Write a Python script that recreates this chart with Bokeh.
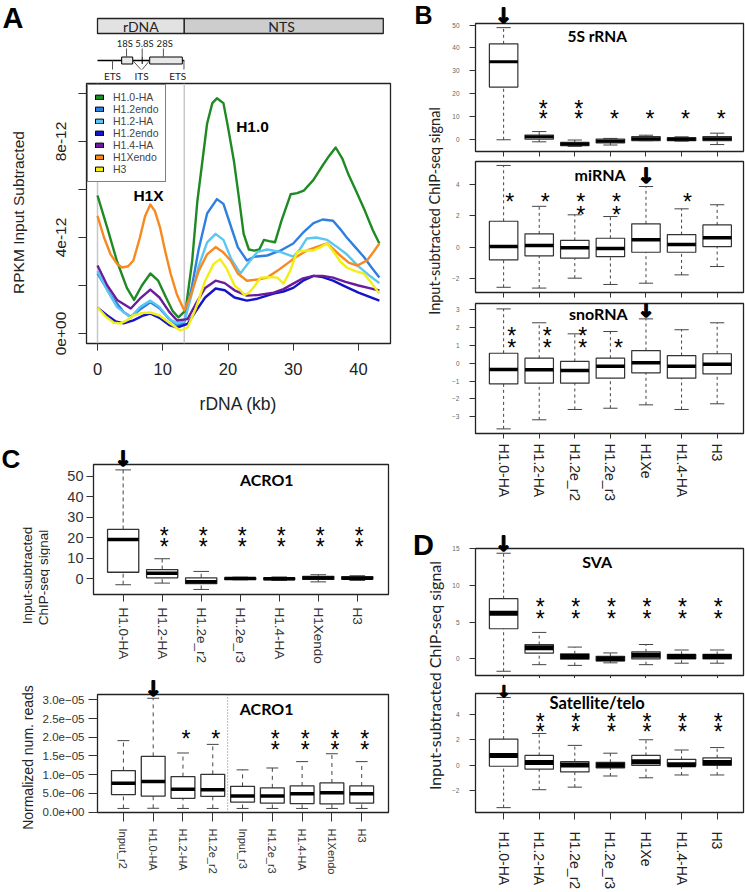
import math
from bokeh.plotting import figure
from bokeh.models import (Range1d, FixedTicker, LinearAxis, Span, Legend, LegendItem, ColumnDataSource)
from bokeh.layouts import row, column
from bokeh.transform import dodge
from bokeh.core.properties import value
from bokeh.embed import file_html
from bokeh.resources import INLINE

# ======================= DATA =======================
# ---- Panel A: rDNA profiles (RPKM input subtracted, in units of 1e-12) ----
series_names = ["H1.0-HA", "H1.2endo", "H1.2-HA", "H1.2endo", "H1.4-HA", "H1Xendo", "H3"]
series_colors = ["#1f8a24", "#2f7fe0", "#5cc6f2", "#1414c8", "#6a1c9c", "#f7891f", "#f2ee16"]

h10_kb = [0, 1.5, 3, 4.5, 5.6, 6.8, 8.1, 9.3, 10.5, 11.5, 12.4, 13.5, 14.5, 15.3, 16.8, 17.6, 18.3, 19.3, 20, 20.9,
          21.7, 22.4, 23.2, 24, 24.8, 25.5, 26.3, 27.2, 28.2, 29.6, 30.6, 31.6, 33.1, 34.5, 35.5, 36.5, 37.5, 38.5,
          39.7, 41, 42.2, 43.2]
h10_val = [5.75, 4.4, 3.0, 1.9, 1.4, 2.0, 2.5, 2.2, 1.5, 0.95, 0.67, 0.96, 3.0, 5.5, 8.75, 9.6, 9.8, 9.6, 8.6, 7.2,
           5.6, 4.15, 3.5, 3.45, 3.5, 3.9, 3.85, 3.8, 4.7, 5.8, 5.85, 5.95, 6.4, 7.0, 7.4, 7.75, 7.3, 6.6,
           5.9, 5.1, 4.3, 3.75]
h12e_kb = [0, 2, 4, 5.1, 6.5, 8.1, 9.5, 11, 12.2, 13.3, 14.5, 15.5, 16.8, 18.3, 19.3, 20.4, 21.5, 22.9, 24, 26,
           28, 30, 31.5, 33.1, 34.5, 36.1, 37.2, 38.2, 39.5, 40.8, 42, 43.2]
h12e_val = [2.5, 1.6, 0.9, 0.7, 1.0, 1.3, 1.05, 0.6, 0.35, 0.45, 2.0, 3.5, 5.0, 5.6, 5.4, 4.5, 3.6, 3.04, 3.2, 3.25,
            3.45, 3.75, 4.2, 4.6, 4.75, 4.7, 4.35, 4.0, 3.6, 3.2, 2.75, 2.33]
h12ha_kb = [0, 1.5, 3, 5.1, 6.5, 8.1, 9.5, 11, 12.2, 13.3, 14.5, 15.5, 16.8, 18.1, 19.3, 20.5, 21.9, 23, 24.5, 26,
            28, 30, 31, 32.1, 33.5, 35.2, 36.5, 38.2, 40, 41.5, 43.2]
h12ha_val = [2.6, 1.8, 1.1, 0.67, 1.1, 1.37, 1.1, 0.6, 0.42, 0.5, 1.7, 2.8, 3.8, 4.15, 3.9, 3.1, 2.5, 2.9, 3.4, 3.5,
             3.4, 3.2, 3.5, 3.96, 4.0, 3.9, 3.65, 3.3, 2.8, 2.45, 2.1]
h12e2_kb = [0, 1.5, 2.8, 4, 5.5, 7, 8.1, 9.5, 11, 12.2, 13.8, 15, 16.5, 18.1, 19.5, 21, 22.9, 24.5, 27, 28.5,
            30, 31.5, 33.1, 34.5, 36.1, 38, 40, 41.5, 43.2]
h12e2_val = [1.08, 0.75, 0.5, 0.42, 0.55, 0.75, 0.83, 0.65, 0.35, 0.25, 0.4, 0.9, 1.5, 1.875, 1.8, 1.5, 1.37, 1.45,
             1.66, 1.75, 1.9, 2.2, 2.4, 2.35, 2.2, 1.95, 1.7, 1.55, 1.37]
h14_kb = [0, 1.5, 3, 5.1, 6.5, 8.1, 9.5, 11, 12.2, 13.8, 15, 16.5, 18.1, 19.5, 21, 22.9, 24.5, 27, 28.5, 30,
          31.5, 33.1, 34.5, 36.1, 38, 40, 41.5, 43.2]
h14_val = [2.83, 2.0, 1.4, 1.04, 1.45, 1.83, 1.5, 0.9, 0.54, 0.6, 1.2, 1.9, 2.2, 2.1, 1.8, 1.58, 1.6, 1.7, 1.85, 2.08,
           2.3, 2.4, 2.4, 2.33, 2.15, 2.0, 1.9, 1.79]
h1x_kb = [0, 1, 2, 3, 3.8, 4.7, 5.5, 6.5, 7.3, 8.1, 8.8, 9.6, 10.4, 11.2, 12.2, 13.3, 14.3, 15.5, 16.8, 18.1,
          19.2, 20.4, 21.5, 22.9, 24.5, 26, 27.5, 29, 30.5, 32.1, 33.5, 35.2, 36.2, 37.2, 38.5, 39.8, 41.3, 42.3, 43.2]
h1x_val = [4.9, 4.0, 3.3, 2.9, 2.75, 2.8, 3.04, 4.0, 4.9, 5.375, 5.1, 4.4, 3.4, 2.5, 1.6, 0.96, 1.6, 2.6, 3.3, 3.6,
           3.4, 3.04, 2.5, 2.2, 2.25, 2.33, 2.6, 2.9, 3.2, 3.46, 3.6, 3.75, 3.5, 3.25, 2.95, 2.83, 3.04, 3.4, 3.75]
h3_kb = [0, 1.3, 2.5, 3.5, 4.5, 5.5, 6.8, 8.1, 9.5, 11, 12.7, 13.8, 15, 16.5, 17.8, 18.8, 19.8, 21, 21.9, 22.5,
         23.2, 23.9, 25, 26.5, 27.6, 28.5, 29.5, 30.6, 32, 33.1, 34.2, 35.2, 36.2, 37.2, 38.2, 39.5, 40.8, 42, 43.2]
h3_val = [1.08, 0.7, 0.45, 0.42, 0.55, 0.75, 0.85, 0.875, 0.75, 0.45, 0.125, 0.25, 1.0, 2.2, 2.9, 3.1, 2.7, 2.0, 1.8,
          1.6, 1.7, 1.92, 2.33, 2.35, 2.33, 2.08, 2.6, 3.4, 3.46, 3.46, 3.6, 3.75, 3.4, 3.0, 2.75, 2.6, 2.5, 2.1, 1.66]

a_x_ticks = [0, 10, 20, 30, 40]
a_y_ticks = [0, 2, 4, 6, 8, 10]
a_y_tick_labels = ["0e+00", "", "4e-12", "", "8e-12", ""]
rdna_bounds_kb = [0.0, 13.3]          # rDNA transcribed unit / NTS boundary
nts_end_kb = 43.8
gene_box_start_kb = [3.7, 8.0]         # 18S, 28S
gene_box_end_kb = [5.4, 13.0]
gene_5_8s_kb = 6.85
gene_labels = ["18S", "5.8S", "28S"]
gene_tick_kb = [4.45, 6.85, 10.1]
gene_label_kb = [4.2, 7.2, 10.3]
spacer_labels = ["ETS", "ITS", "ETS"]
spacer_label_kb = [2.3, 6.75, 12.3]
spacer_tick_kb = [2.3, 13.25]

# ---- Panel B ----
b_labels = ["H1.0-HA", "H1.2-HA", "H1.2e_r2", "H1.2e_r3", "H1Xe", "H1.4-HA", "H3"]
s5_lo = [-0.3, -1.2, -3.2, -2.6, -0.7, -0.9, -2.4]
s5_q1 = [22.8, 0.0, -2.9, -1.7, -0.7, -0.7, -0.7]
s5_med = [33.9, 1.0, -2.1, -0.9, 0.2, -0.1, 0.2]
s5_q3 = [41.8, 1.8, -1.45, 0.0, 1.1, 0.6, 1.1]
s5_hi = [48.9, 3.3, -0.4, 0.3, 1.7, 1.0, 2.6]
s5_sig = [0, 2, 2, 1, 1, 1, 1]
s5_arrow = 1
s5_ticks = [0, 10, 20, 30, 40, 50]

mi_lo = [-2.55, -2.6, -1.97, -2.37, -2.29, -1.76, -1.23]
mi_q1 = [-0.8, -0.55, -0.7, -0.6, -0.32, -0.32, 0.04]
mi_med = [0.05, 0.11, -0.04, -0.08, 0.47, 0.17, 0.6]
mi_q3 = [1.65, 0.85, 0.43, 0.57, 1.49, 0.8, 1.42]
mi_hi = [5.2, 2.6, 2.06, 1.95, 3.86, 2.44, 2.7]
mi_sig = [1, 1, 2, 2, 0, 1, 0]
mi_arrow = 5
mi_ticks = [-2, 0, 2, 4]

sno_lo = [-3.69, -3.18, -2.6, -2.53, -2.34, -2.6, -2.28]
sno_q1 = [-1.16, -1.12, -1.12, -0.84, -0.54, -0.84, -0.6]
sno_med = [-0.35, -0.37, -0.41, -0.17, 0.02, -0.17, -0.06]
sno_q3 = [0.56, 0.28, 0.1, 0.28, 0.71, 0.43, 0.53]
sno_hi = [3.05, 2.27, 1.65, 1.78, 2.49, 1.88, 2.27]
sno_sig = [2, 2, 2, 1, 0, 0, 0]
sno_arrow = 5
sno_ticks = [-3, -2, -1, 0, 1, 2, 3]

# ---- Panel C ----
c_labels = ["H1.0-HA", "H1.2-HA", "H1.2e_r2", "H1.2e_r3", "H1.4-HA", "H1Xendo", "H3"]
ac_lo = [-2.9, -2.1, -5.2, -0.5, -0.8, -1.5, -0.8]
ac_q1 = [3.2, 0.5, -2.4, -0.3, -0.4, -0.3, -0.2]
ac_med = [19.2, 2.7, -1.4, 0.1, 0.0, 0.4, 0.3]
ac_q3 = [24.1, 4.5, 0.5, 0.5, 0.4, 1.2, 1.0]
ac_hi = [53.2, 9.8, 3.6, 0.8, 0.9, 2.0, 1.5]
ac_sig = [0, 2, 2, 2, 2, 2, 2]
ac_arrow = 1
ac_ticks = [0, 10, 20, 30, 40, 50]

r_labels = ["Input_r2", "H1.0-HA", "H1.2-HA", "H1.2e_r2", "Input_r3", "H1.2e_r3", "H1.4-HA", "H1Xendo", "H3"]
# normalized number of reads, in units of 1e-6
ar_lo = [1.0, 1.05, 1.0, 1.0, 1.0, 1.0, 1.0, 1.0, 1.0]
ar_q1 = [4.7, 4.3, 3.7, 4.2, 2.7, 2.4, 2.3, 2.2, 2.4]
ar_med = [7.7, 8.2, 6.1, 6.0, 4.3, 4.3, 4.9, 5.2, 4.9]
ar_q3 = [11.1, 14.9, 9.5, 10.1, 6.9, 6.5, 7.0, 7.8, 7.0]
ar_hi = [19.1, 30.4, 15.8, 18.1, 11.3, 11.8, 13.5, 15.6, 13.5]
ar_sig = [0, 0, 1, 1, 0, 2, 2, 2, 2]
ar_arrow = 2
ar_ticks = [0, 5, 10, 15, 20, 25, 30]
ar_tick_labels = ["0.0e+00", "5.0e\u221206", "1.0e\u221205", "1.5e\u221205", "2.0e\u221205", "2.5e\u221205",
                  "3.0e\u221205"]
ar_separator_at = 4.5

# ---- Panel D ----
sva_lo = [-1.7, -0.8, -0.9, -0.55, -0.8, -0.6, -0.6]
sva_q1 = [4.1, 0.77, -0.05, -0.3, 0.0, 0.0, 0.0]
sva_med = [6.2, 1.5, 0.3, 0.0, 0.5, 0.3, 0.3]
sva_q3 = [8.2, 1.95, 0.68, 0.35, 0.95, 0.6, 0.6]
sva_hi = [14.4, 3.6, 1.6, 0.8, 1.95, 1.2, 1.2]
sva_sig = [0, 2, 2, 2, 2, 2, 2]
sva_arrow = 1
sva_ticks = [0, 5, 10, 15]

sat_lo = [-3.3, -1.9, -1.7, -0.83, -0.97, -0.75, -0.75]
sat_q1 = [-0.07, -0.29, -0.51, -0.19, 0.0, -0.05, 0.0]
sat_med = [0.78, 0.22, 0.03, 0.0, 0.29, 0.05, 0.22]
sat_q3 = [2.05, 0.78, 0.29, 0.24, 0.78, 0.47, 0.59]
sat_hi = [5.3, 2.49, 1.56, 0.95, 2.0, 1.2, 1.39]
sat_sig = [0, 2, 2, 2, 2, 2, 2]
sat_arrow = 1
sat_ticks = [-2, 0, 2, 4]

chip_ylabel = "Input-subtracted ChIP-seq signal"

# ======================= HELPERS =======================
SANS = "Liberation Sans"
BOLDF = "Lato"
ARROWF = "DejaVu Sans"
DOWN = "\u2193"
NAN = float("nan")


def minus(v):
    return ("%g" % v).replace("-", "\u2212")


def try_set(obj, name, val):
    try:
        setattr(obj, name, val)
    except Exception:
        pass


class Geo:
    def __init__(self, ox, oy, w, h, fx0, fy0, fx1, fy1, xr, yr):
        self.ox, self.oy, self.w, self.h = ox, oy, w, h
        self.fx0, self.fy0, self.fx1, self.fy1 = fx0, fy0, fx1, fy1
        self.xr, self.yr = xr, yr

    def X(self, ix):
        return self.xr[0] + (ix - self.fx0) / (self.fx1 - self.fx0) * (self.xr[1] - self.xr[0])

    def Y(self, iy):
        return self.yr[0] + (self.fy1 - iy) / (self.fy1 - self.fy0) * (self.yr[1] - self.yr[0])


def yrange_from(zero_px, ppu, fy0, fy1):
    return ((zero_px - fy1) / ppu, (zero_px - fy0) / ppu)


def make_fig(g, x_range=None):
    p = figure(width=g.w, height=g.h, x_range=x_range if x_range is not None else Range1d(*g.xr),
               y_range=Range1d(*g.yr), output_backend="svg", toolbar_location=None, title=None,
               min_border_left=int(g.fx0 - g.ox), min_border_right=int(g.ox + g.w - g.fx1),
               min_border_top=int(g.fy0 - g.oy), min_border_bottom=int(g.oy + g.h - g.fy1))
    p.frame_align = False
    p.xgrid.visible = False
    p.ygrid.visible = False
    p.outline_line_color = "#222222"
    p.outline_line_width = 1.3
    p.background_fill_color = "white"
    p.border_fill_color = "white"
    return p


def strip(ox, oy, w, h):
    p = figure(width=w, height=h, x_range=Range1d(ox, ox + w), y_range=Range1d(oy + h, oy),
               x_axis_type=None, y_axis_type=None, min_border=0, output_backend="svg",
               toolbar_location=None, title=None)
    p.frame_align = False
    p.grid.visible = False
    p.outline_line_color = None
    return p


def stext(p, x, y, text, size, font=SANS, bold=False, angle=0.0, align="center", color="#222222"):
    p.text(x=[x], y=[y], text=[text], angle=angle, text_align=align, text_baseline="middle",
           text_font=value(font), text_font_style="bold" if bold else "normal",
           text_font_size=size, text_color=color)


def style_axis(ax, ticks, labels, size, tick_out, standoff, color="#333333", orient="horizontal"):
    ax.ticker = FixedTicker(ticks=ticks)
    ax.major_label_overrides = {t: l for t, l in zip(ticks, labels)}
    ax.major_label_text_font = SANS
    ax.major_label_text_font_size = size
    ax.major_label_text_color = color
    ax.major_label_standoff = standoff
    ax.major_tick_out = tick_out
    ax.major_tick_in = 0
    ax.minor_tick_out = 0
    ax.minor_tick_in = 0
    ax.axis_line_color = None
    ax.major_tick_line_color = "#333333"
    ax.major_tick_line_width = 1
    ax.major_label_orientation = orient


def arrow_axis(p, k, standoff, size="21px"):
    ax = LinearAxis(ticker=FixedTicker(ticks=[k]), major_label_overrides={k: DOWN},
                    major_label_text_font=ARROWF, major_label_text_font_style="bold",
                    major_label_text_font_size=size, major_label_text_color="black",
                    major_label_standoff=standoff, major_tick_out=0, major_tick_in=0,
                    minor_tick_out=0, minor_tick_in=0, major_tick_line_color=None,
                    minor_tick_line_color=None, axis_line_color=None)
    try_set(ax, "major_label_text_outline_color", "black")
    p.add_layout(ax, "above")


def draw_boxes(p, lo, q1, med, q3, hi, med_w=3.5, dash="3 3", box_col="#333333", box_lw=1.2):
    n = len(lo)
    src = ColumnDataSource(dict(x=list(range(1, n + 1)), lo=lo, q1=q1, med=med, q3=q3, hi=hi))
    p.segment(x0="x", y0="lo", x1="x", y1="q1", source=src, line_color="#444444", line_dash=dash, line_width=1)
    p.segment(x0="x", y0="q3", x1="x", y1="hi", source=src, line_color="#444444", line_dash=dash, line_width=1)
    p.segment(x0=dodge("x", -0.2), y0="lo", x1=dodge("x", 0.2), y1="lo", source=src,
              line_color="#444444", line_width=1)
    p.segment(x0=dodge("x", -0.2), y0="hi", x1=dodge("x", 0.2), y1="hi", source=src,
              line_color="#444444", line_width=1)
    p.vbar(x="x", width=0.8, bottom="q1", top="q3", source=src, fill_color=None,
           line_color=box_col, line_width=box_lw)
    p.segment(x0=dodge("x", -0.4), y0="med", x1=dodge("x", 0.4), y1="med", source=src,
              line_color="black", line_width=med_w, line_cap="butt")


def draw_stars(p, g, sig, y_up, y_lo, single_at, xoff, size="23px", yoff=5):
    xs, ys = [], []
    for i, n in enumerate(sig, start=1):
        if n >= 2:
            xs += [i, i]
            ys += [g.Y(y_up), g.Y(y_lo)]
        elif n == 1:
            xs.append(i)
            ys.append(g.Y(y_up if single_at == "up" else y_lo))
    p.text(x=xs, y=ys, text=["*"] * len(xs), x_offset=xoff, y_offset=yoff,
           text_align="center", text_baseline="middle", text_font=value(SANS),
           text_font_size=size, text_color="black")


def draw_inner_arrow(p, g, k, y_center, size="21px"):
    r = p.text(x=[k], y=[g.Y(y_center)], text=[DOWN], text_align="center", text_baseline="middle",
               text_font=value(ARROWF), text_font_style="bold", text_font_size=size, text_color="black")
    try_set(r.glyph, "text_outline_color", "black")


def draw_title(p, g, text, xdata, y_img, size="16px"):
    p.text(x=[xdata], y=[g.Y(y_img)], text=[text], text_align="center", text_baseline="middle",
           text_font=value(BOLDF), text_font_style="bold", text_font_size=size, text_color="black")


def no_labels_x(p, tick_out):
    style_axis(p.below[0], list(range(1, 8)), [""] * 7, "1px", tick_out, 0)


# ======================= PANEL A =======================
KB0_X, PX_PER_KB = 97.0, 6.525


def kb_at(ix):
    return (ix - KB0_X) / PX_PER_KB


gA = Geo(36, 80, 356, 352, 86, 83, 390, 343, (kb_at(86), kb_at(390)), yrange_from(333, 24, 83, 343))
pA = make_fig(gA)

# schematic above the profile, sharing the kb axis
pS = figure(width=356, height=80, x_range=pA.x_range, y_range=Range1d(80, 0),
            x_axis_type=None, y_axis_type=None, min_border_left=50, min_border_right=2,
            min_border_top=0, min_border_bottom=0, output_backend="svg",
            toolbar_location=None, title=None)
pS.frame_align = False
pS.grid.visible = False
pS.outline_line_color = None
pS.quad(left=[rdna_bounds_kb[0], rdna_bounds_kb[1]], right=[rdna_bounds_kb[1], nts_end_kb],
        top=[18, 18], bottom=[33, 33], fill_color=["#e2e2e2", "#cdcdcd"], line_color="#222222", line_width=1.3)
pS.text(x=[(rdna_bounds_kb[0] + rdna_bounds_kb[1]) / 2, 28.2], y=[26, 26], text=["rDNA", "NTS"],
        text_align="center", text_baseline="middle", text_font=value(BOLDF), text_font_size="14px",
        text_color="#222222")
pS.segment(x0=[rdna_bounds_kb[0]], y0=[60], x1=[rdna_bounds_kb[1]], y1=[60], line_color="black", line_width=1.3)
pS.quad(left=gene_box_start_kb, right=gene_box_end_kb, top=[56.5, 56.5], bottom=[63.5, 63.5],
        fill_color="#e8e8e8", line_color="black", line_width=1)
pS.segment(x0=[gene_5_8s_kb], y0=[56.5], x1=[gene_5_8s_kb], y1=[63.5], line_color="black", line_width=1)
pS.segment(x0=gene_tick_kb, y0=[48, 48, 48], x1=gene_tick_kb, y1=[56.5, 56.5, 56.5],
           line_color="#555555", line_width=1)
pS.text(x=gene_label_kb, y=[43, 43, 43], text=gene_labels, text_align="center", text_baseline="middle",
        text_font=value(BOLDF), text_font_size="9.5px", text_color="#222222")
pS.segment(x0=spacer_tick_kb, y0=[60, 60], x1=spacer_tick_kb, y1=[69, 69], line_color="#555555", line_width=1)
pS.segment(x0=[gene_box_end_kb[0], gene_box_start_kb[1]], y0=[60, 60],
           x1=[spacer_label_kb[1] - 0.1, spacer_label_kb[1] + 0.1], y1=[69, 69], line_color="#555555", line_width=1)
pS.text(x=spacer_label_kb, y=[75, 75, 75], text=spacer_labels, text_align="center", text_baseline="middle",
        text_font=value(BOLDF), text_font_size="10px", text_color="#222222")

for loc in rdna_bounds_kb:
    pA.add_layout(Span(location=loc, dimension="height", line_color="#c8c8c8", line_width=1.5, level="underlay"))
for kb, vals, col in zip([h10_kb, h12e_kb, h12ha_kb, h12e2_kb, h14_kb, h1x_kb, h3_kb],
                         [h10_val, h12e_val, h12ha_val, h12e2_val, h14_val, h1x_val, h3_val], series_colors):
    pA.line(kb, vals, line_color=col, line_width=2.4, line_join="round")
axA_x, axA_y = pA.below[0], pA.left[0]
style_axis(axA_x, a_x_ticks, [str(t) for t in a_x_ticks], "16.5px", 7, 12, color="#222222")
style_axis(axA_y, a_y_ticks, a_y_tick_labels, "15.5px", 8, 13, color="#222222", orient="vertical")
axA_x.axis_label = "rDNA (kb)"
axA_x.axis_label_text_font = SANS
axA_x.axis_label_text_font_size = "17.5px"
axA_x.axis_label_text_font_style = "normal"
axA_x.axis_label_text_color = "#222222"
axA_x.axis_label_standoff = 16
pA.text(x=[gA.X(252), gA.X(148)], y=[gA.Y(126), gA.Y(195)], text=["H1.0", "H1X"], text_align="center",
        text_baseline="middle", text_font=value(SANS), text_font_style="bold", text_font_size="15.5px",
        text_color="black")
items = []
for name, col in zip(series_names, series_colors):
    r = pA.quad(left=[NAN], right=[NAN], top=[NAN], bottom=[NAN], fill_color=col, line_color="black",
                line_width=1)
    items.append(LegendItem(label=name, renderers=[r]))
leg = Legend(items=items, location="top_left", margin=1, padding=6, spacing=0,
             label_text_font=SANS, label_text_font_size="10.5px", label_height=11,
             glyph_height=6, glyph_width=10, label_standoff=9,
             border_line_color="black", border_line_width=1.5, background_fill_alpha=1.0)
pA.add_layout(leg)

pLa = strip(0, 0, 36, 432)
stext(pLa, 2, 17, "A", "29px", bold=True, align="left", color="black")
stext(pLa, 18, 212, "RPKM Input Subtracted", "15.5px", angle=math.pi / 2)

# ======================= PANEL C =======================
gC1 = Geo(50, 432, 342, 236, 93, 464, 388, 594, (0.24, 7.8), yrange_from(578.3, 2.047, 464, 594))
pC1 = make_fig(gC1)
style_axis(pC1.left[0], ac_ticks, [str(t) for t in ac_ticks], "14.5px", 7, 3)
style_axis(pC1.below[0], list(range(1, len(c_labels) + 1)), c_labels, "13.5px", 7, 6, orient="vertical")
draw_boxes(pC1, ac_lo, ac_q1, ac_med, ac_q3, ac_hi, med_w=3.5, dash="4 3", box_lw=1.3)
draw_stars(pC1, gC1, ac_sig, 530, 541.7, "up", 2)
arrow_axis(pC1, ac_arrow, -6)
draw_title(pC1, gC1, "ACRO1", 4.68, 479)

pLc1 = strip(0, 432, 50, 236)
stext(pLc1, 1, 458, "C", "26px", bold=True, align="left", color="black")
stext(pLc1, 26.5, 575, "Input-subtracted", "13.5px", angle=math.pi / 2)
stext(pLc1, 42.5, 577, "ChIP-seq signal", "13.5px", angle=math.pi / 2)

gC2 = Geo(37, 668, 355, 224, 97, 694, 388, 812, (0.13, 9.9), yrange_from(811.7, 3.747, 694, 812))
pC2 = make_fig(gC2)
style_axis(pC2.left[0], ar_ticks, ar_tick_labels, "11.5px", 9, 4)
style_axis(pC2.below[0], list(range(1, len(r_labels) + 1)), r_labels, "11px", 9, 7, orient="vertical")
pC2.add_layout(Span(location=ar_separator_at, dimension="height", line_color="#777777", line_width=1,
                    line_dash="1 2"))
draw_boxes(pC2, ar_lo, ar_q1, ar_med, ar_q3, ar_hi, med_w=3.5, dash="4 4", box_lw=1.3)
draw_stars(pC2, gC2, ar_sig, 733, 744, "up", 3)
arrow_axis(pC2, ar_arrow, -6)
draw_title(pC2, gC2, "ACRO1", 5.81, 708)

pLc2 = strip(0, 668, 37, 224)
stext(pLc2, 27.5, 757, "Normalized num. reads", "14px", angle=math.pi / 2)

# ======================= PANEL B / D (right column) =======================
XR7 = (0.21, 7.74)
TICK_SMALL = "6.5px"

gB1 = Geo(446, 0, 299, 157, 475, 20, 743, 151, XR7, yrange_from(138.3, 2.333, 20, 151))
pB1 = make_fig(gB1)
style_axis(pB1.left[0], s5_ticks, [minus(t) for t in s5_ticks], TICK_SMALL, 6, 10, color="#666666")
no_labels_x(pB1, 5)
draw_boxes(pB1, s5_lo, s5_q1, s5_med, s5_q3, s5_hi, med_w=3)
draw_stars(pB1, gB1, s5_sig, 102, 113, "lo", 4)
arrow_axis(pB1, s5_arrow, -4)
draw_title(pB1, gB1, "5S rRNA", 3.63, 33, size="15.5px")

gB2 = Geo(446, 157, 299, 141, 475, 161, 743, 292, XR7, yrange_from(246.7, 15.72, 161, 292))
pB2 = make_fig(gB2)
style_axis(pB2.left[0], mi_ticks, [minus(t) for t in mi_ticks], TICK_SMALL, 6, 10, color="#666666")
no_labels_x(pB2, 5)
draw_boxes(pB2, mi_lo, mi_q1, mi_med, mi_q3, mi_hi, med_w=3.5)
draw_stars(pB2, gB2, mi_sig, 196.7, 209.3, "up", 6)
draw_inner_arrow(pB2, gB2, mi_arrow, 175)
draw_title(pB2, gB2, "miRNA", 3.71, 174)

gB3 = Geo(446, 298, 299, 222, 475, 303, 743, 433, XR7, yrange_from(362.7, 17.8, 303, 433))
pB3 = make_fig(gB3)
style_axis(pB3.left[0], sno_ticks, [minus(t) for t in sno_ticks], TICK_SMALL, 6, 10, color="#666666")
style_axis(pB3.below[0], list(range(1, 8)), b_labels, "14px", 5, 5, color="#222222", orient="vertical")
draw_boxes(pB3, sno_lo, sno_q1, sno_med, sno_q3, sno_hi, med_w=3.5)
draw_stars(pB3, gB3, sno_sig, 330.7, 342.7, "lo", 8)
draw_inner_arrow(pB3, gB3, sno_arrow, 309)
draw_title(pB3, gB3, "snoRNA", 3.66, 313)

gD1 = Geo(446, 520, 299, 158, 475, 548, 743, 675, XR7, yrange_from(658.3, 7.33, 548, 675))
pD1 = make_fig(gD1)
style_axis(pD1.left[0], sva_ticks, [minus(t) for t in sva_ticks], TICK_SMALL, 6, 10, color="#666666")
no_labels_x(pD1, 3)
draw_boxes(pD1, sva_lo, sva_q1, sva_med, sva_q3, sva_hi, med_w=5)
draw_stars(pD1, gD1, sva_sig, 601.7, 613.3, "up", 1)
arrow_axis(pD1, sva_arrow, -7)
draw_title(pD1, gD1, "SVA", 3.63, 561)

gD2 = Geo(446, 678, 299, 214, 475, 689, 743, 816, XR7, yrange_from(765.7, 13.67, 689, 816))
pD2 = make_fig(gD2)
style_axis(pD2.left[0], sat_ticks, [minus(t) for t in sat_ticks], TICK_SMALL, 6, 10, color="#666666")
style_axis(pD2.below[0], list(range(1, 8)), b_labels, "14px", 7, 12, color="#222222", orient="vertical")
draw_boxes(pD2, sat_lo, sat_q1, sat_med, sat_q3, sat_hi, med_w=5)
draw_stars(pD2, gD2, sat_sig, 714, 725, "up", 1)
arrow_axis(pD2, sat_arrow, -7, size="16px")
draw_title(pD2, gD2, "Satellite/telo", 3.63, 699, size="16.5px")

pR = strip(392, 0, 54, 892)
stext(pR, 423, 14, "B", "25px", bold=True, color="black")
stext(pR, 423, 544, "D", "29px", bold=True, color="black")
stext(pR, 434, 210.5, chip_ylabel, "14.5px", font=BOLDF, angle=math.pi / 2)
stext(pR, 433.5, 675, chip_ylabel, "16px", font=BOLDF, angle=math.pi / 2)

left = column(row(pLa, column(pS, pA)), row(pLc1, pC1), row(pLc2, pC2))
right = column(pB1, pB2, pB3, pD1, pD2)
layout = row(left, pR, right)

open("out.html", "w").write(file_html(layout, INLINE))
